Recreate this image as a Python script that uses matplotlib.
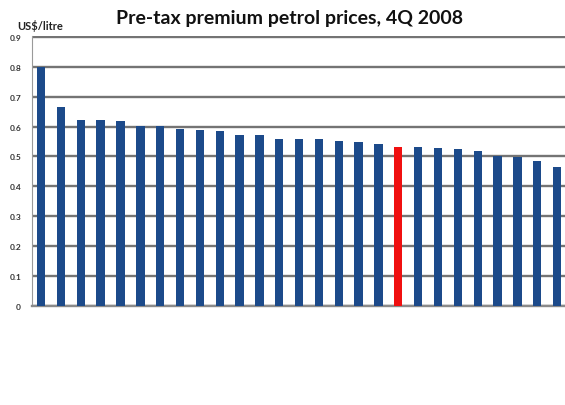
import matplotlib
matplotlib.use("Agg")
import matplotlib.pyplot as plt

# pre-tax premium petrol price per country, US$/litre (sorted, highlighted one in red)
prices = [0.80, 0.666, 0.622, 0.622, 0.620, 0.603, 0.602, 0.592, 0.588, 0.584,
          0.571, 0.571, 0.560, 0.560, 0.558, 0.552, 0.547, 0.543, 0.533, 0.533,
          0.529, 0.524, 0.519, 0.502, 0.497, 0.484, 0.465]
highlight = 18
yticks = [0, 0.1, 0.2, 0.3, 0.4, 0.5, 0.6, 0.7, 0.8, 0.9]
ytick_labels = ["0", "0.1", "0.2", "0.3", "0.4", "0.5", "0.6", "0.7", "0.8", "0.9"]

plt.rcParams['font.family'] = ['Lato', 'DejaVu Sans']

fig = plt.figure(figsize=(5.65, 4.06), dpi=100)
ax = fig.add_axes([0.057, 0.245, 0.943, 0.663])

colors = ['#1c4a8a'] * len(prices)
colors[highlight] = '#f01010'
ax.bar(range(len(prices)), prices, width=0.42, color=colors, zorder=3)

ax.set_xlim(-0.45, len(prices) - 0.6)
ax.set_ylim(0, 0.903)
ax.set_yticks(yticks)
ax.set_yticklabels(ytick_labels, fontsize=6, fontweight='bold', color='#333333')
ax.set_xticks([])
ax.tick_params(axis='y', length=0, pad=8)
ax.yaxis.grid(True, color='#747474', linewidth=1.7, zorder=0)

for side in ['top', 'right']:
    ax.spines[side].set_visible(False)
ax.spines['left'].set_color('#9a9a9a')
ax.spines['bottom'].set_color('#8a8a8a')
ax.spines['bottom'].set_linewidth(1.7)

fig.text(0.513, 0.955, "Pre-tax premium petrol prices, 4Q 2008", ha='center', va='center',
         fontsize=14, fontweight='bold', color='#111111')
fig.text(0.03, 0.937, "US$/litre", ha='left', va='center',
         fontsize=8, fontweight='bold', color='#222222')

plt.savefig("out.png", dpi=100)
